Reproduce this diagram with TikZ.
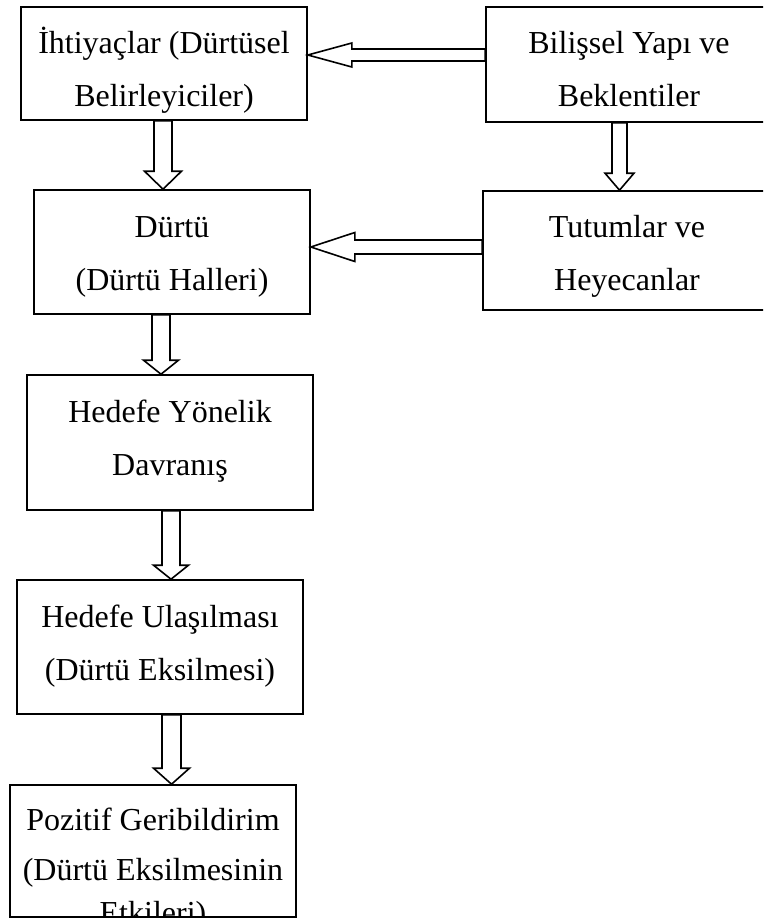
\documentclass[tikz,border=0pt]{standalone}
\usepackage{fontspec}
\setmainfont{Liberation Serif}
\usetikzlibrary{calc}

% hollow block arrow: start, tip, shaft half width, head half width, head length
\newcommand{\hollowarrow}[5]{%
  \coordinate (ha-s) at (#1);
  \coordinate (ha-e) at (#2);
  \coordinate (ha-b) at ($(ha-e)!#5!(ha-s)$);
  \draw[arrowline] ($(ha-s)!#3!90:(ha-e)$) -- ($(ha-b)!#3!90:(ha-e)$)
    -- ($(ha-b)!#4!90:(ha-e)$) -- (ha-e) -- ($(ha-b)!#4!-90:(ha-e)$)
    -- ($(ha-b)!#3!-90:(ha-e)$) -- ($(ha-s)!#3!-90:(ha-e)$) -- cycle;
}

\begin{document}
\begin{tikzpicture}[x=1pt, y=-1pt,
  boxnode/.style={draw, line width=1.6pt, inner sep=0pt},
  txt/.style={align=center, anchor=base, inner sep=0pt, font=\fontsize{32pt}{53pt}\selectfont},
  arrowline/.style={line width=1.6pt, line join=miter}]
  \clip (0,0) rectangle (763,923);
  % Boxes
  \node[boxnode, minimum width=286pt, minimum height=113pt] (ihtiyac) at (164,63.5) {};
  \node[boxnode, minimum width=286pt, minimum height=115pt] (bilissel) at (629,64.5) {};
  \node[boxnode, minimum width=276pt, minimum height=124pt] (durtu) at (172,252) {};
  \node[boxnode, minimum width=288pt, minimum height=119pt] (tutum) at (627,250.5) {};
  \node[boxnode, minimum width=286pt, minimum height=135pt] (hedefyon) at (170,442.5) {};
  \node[boxnode, minimum width=286pt, minimum height=134pt] (hedefulas) at (160,647) {};
  \node[boxnode, minimum width=286pt, minimum height=132pt] (pozitif) at (153,851) {};
  % Texts (placed at the baseline of the last line)
  \node[txt] (ihtiyac-t) at (164,107) {İhtiyaçlar (Dürtüsel\\Belirleyiciler)};
  \node[txt] (bilissel-t) at (629,107) {Bilişsel Yapı ve\\Beklentiler};
  \node[txt] (durtu-t) at (172,290) {Dürtü\\(Dürtü Halleri)};
  \node[txt] (tutum-t) at (627,290) {Tutumlar ve\\Heyecanlar};
  \node[txt] (hedefyon-t) at (170,475) {Hedefe Yönelik\\Davranış};
  \node[txt] (hedefulas-t) at (160,680) {Hedefe Ulaşılması\\(Dürtü Eksilmesi)};
  \begin{scope}
    \clip (pozitif.south west) rectangle (pozitif.north east);
    \node[txt, font=\fontsize{32pt}{50pt}\selectfont] (pozitif-t) at (153,923)
      {Pozitif Geribildirim\\(Dürtü Eksilmesinin\\[-7pt]Etkileri)};
  \end{scope}
  % Arrows
  \coordinate (a1s) at ($(bilissel.west)+(0,-9.5)$);
  \hollowarrow{a1s}{a1s -| ihtiyac.east}{6pt}{12pt}{44pt}
  \coordinate (a2s) at ($(tutum.west)+(0,-3.5)$);
  \hollowarrow{a2s}{a2s -| durtu.east}{7pt}{14.5pt}{44pt}
  \coordinate (a3s) at ($(ihtiyac.south)+(-1,0)$);
  \hollowarrow{a3s}{a3s |- durtu.north}{9pt}{18.5pt}{18pt}
  \coordinate (a4s) at ($(bilissel.south)+(-9.5,0)$);
  \hollowarrow{a4s}{a4s |- tutum.north}{7.5pt}{14.5pt}{17pt}
  \coordinate (a5s) at ($(durtu.south)+(-11,0)$);
  \hollowarrow{a5s}{a5s |- hedefyon.north}{9pt}{17.5pt}{14pt}
  \coordinate (a6s) at ($(hedefyon.south)+(1,0)$);
  \hollowarrow{a6s}{a6s |- hedefulas.north}{9pt}{17.5pt}{14pt}
  \coordinate (a7s) at ($(hedefulas.south)+(11.5,0)$);
  \hollowarrow{a7s}{a7s |- pozitif.north}{9.5pt}{18pt}{16pt}
\end{tikzpicture}
\end{document}
